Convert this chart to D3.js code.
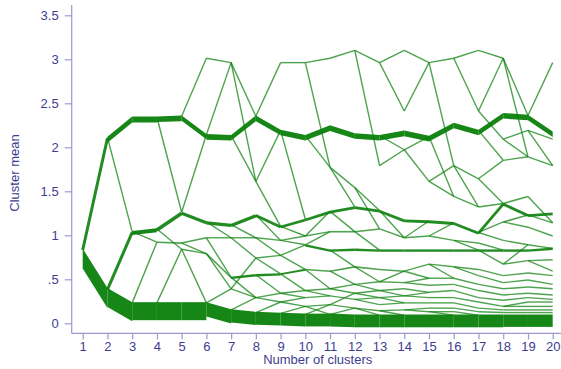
<!DOCTYPE html>
<html>
<head>
<meta charset="utf-8">
<script src="https://cdn.jsdelivr.net/npm/d3@7"></script>
<style>
  body { margin: 0; background: #fff; }
  svg { display: block; font-family: "Liberation Sans", Arial, sans-serif; }
</style>
</head>
<body>
<div id="chart"></div>
<script>
// number of clusters on the x axis
const clusterCounts = [1, 2, 3, 4, 5, 6, 7, 8, 9, 10, 11, 12, 13, 14, 15, 16, 17, 18, 19, 20];
const yTicks = [0, 0.5, 1, 1.5, 2, 2.5, 3, 3.5];
const yTickLabels = ['0', '.5', '1', '1.5', '2', '2.5', '3', '3.5'];

// cluster means for each solution (k clusters -> k means)
const clusterMeans = [
  [0.85],
  [2.12, 0.40],
  [2.35, 1.05, 0.24],
  [2.35, 1.08, 0.93, 0.24],
  [2.36, 1.27, 0.92, 0.85, 0.24],
  [3.02, 2.15, 1.16, 0.98, 0.80, 0.24],
  [2.97, 2.14, 1.13, 0.98, 0.53, 0.40, 0.16],
  [2.36, 1.62, 1.24, 0.98, 0.75, 0.56, 0.30, 0.13],
  [2.97, 2.20, 1.11, 0.95, 0.78, 0.57, 0.35, 0.25, 0.12],
  [2.97, 2.14, 1.19, 1.00, 0.90, 0.62, 0.38, 0.30, 0.20, 0.11],
  [3.02, 2.25, 1.78, 1.28, 1.05, 0.84, 0.60, 0.40, 0.32, 0.22, 0.11],
  [3.11, 2.16, 1.55, 1.33, 1.05, 0.85, 0.65, 0.45, 0.35, 0.28, 0.18, 0.10],
  [2.97, 2.14, 1.80, 1.29, 1.08, 0.84, 0.62, 0.48, 0.38, 0.30, 0.22, 0.15, 0.10],
  [3.11, 2.42, 2.19, 1.98, 1.18, 0.98, 0.84, 0.60, 0.47, 0.40, 0.32, 0.24, 0.16, 0.10],
  [2.97, 2.13, 1.62, 1.17, 1.00, 0.84, 0.68, 0.52, 0.44, 0.36, 0.30, 0.24, 0.18, 0.14, 0.10],
  [3.02, 2.28, 1.80, 1.45, 1.15, 0.95, 0.84, 0.65, 0.52, 0.45, 0.38, 0.30, 0.24, 0.18, 0.14, 0.10],
  [3.11, 2.42, 2.20, 1.65, 1.33, 1.04, 0.92, 0.84, 0.62, 0.55, 0.45, 0.38, 0.30, 0.25, 0.18, 0.14, 0.10],
  [3.02, 2.39, 2.10, 1.86, 1.37, 1.16, 0.95, 0.84, 0.68, 0.55, 0.47, 0.40, 0.33, 0.27, 0.20, 0.16, 0.13, 0.10],
  [2.37, 2.20, 1.90, 1.45, 1.24, 1.10, 0.90, 0.84, 0.72, 0.58, 0.50, 0.42, 0.35, 0.30, 0.25, 0.20, 0.16, 0.13, 0.10],
  [2.97, 2.18, 2.10, 1.80, 1.26, 1.15, 1.00, 0.86, 0.73, 0.60, 0.55, 0.45, 0.40, 0.33, 0.28, 0.25, 0.20, 0.16, 0.13, 0.10]
];

// moves between k and k+1 clusters: [cluster at k, cluster at k+1, observations]
const flows = [
  [[0, 0, 15], [0, 1, 100]],
  [[0, 0, 30], [0, 1, 7], [1, 1, 15], [1, 2, 95]],
  [[0, 0, 30], [1, 1, 20], [1, 2, 7], [2, 2, 7], [2, 3, 90]],
  [[0, 0, 28], [0, 1, 7], [1, 1, 18], [1, 3, 7], [2, 2, 8], [3, 3, 7], [3, 4, 90]],
  [[0, 0, 7], [0, 1, 26], [1, 1, 7], [1, 2, 16], [2, 3, 7], [2, 4, 7], [3, 4, 7], [3, 5, 7], [4, 5, 90]],
  [[0, 0, 7], [1, 1, 28], [1, 0, 7], [2, 2, 16], [2, 3, 7], [3, 3, 7], [3, 4, 7], [4, 4, 8], [4, 5, 7], [5, 5, 7], [5, 6, 72]],
  [[0, 0, 7], [0, 1, 7], [1, 0, 28], [1, 1, 7], [2, 2, 16], [2, 3, 7], [3, 3, 7], [3, 4, 7], [4, 5, 12], [4, 6, 7], [5, 4, 7], [5, 6, 7], [6, 6, 7], [6, 7, 66]],
  [[0, 0, 7], [0, 1, 28], [1, 1, 7], [1, 2, 7], [2, 2, 14], [2, 3, 7], [3, 3, 7], [3, 4, 7], [4, 4, 7], [4, 5, 7], [5, 5, 12], [5, 6, 7], [6, 6, 7], [6, 7, 7], [7, 7, 7], [7, 8, 64]],
  [[0, 0, 7], [1, 1, 28], [1, 2, 7], [2, 2, 14], [2, 3, 7], [3, 3, 7], [3, 4, 7], [4, 4, 7], [4, 5, 7], [5, 5, 10], [5, 6, 7], [6, 6, 7], [6, 7, 7], [7, 7, 7], [7, 8, 7], [8, 8, 7], [8, 9, 64]],
  [[0, 0, 7], [0, 2, 7], [1, 1, 28], [1, 2, 7], [2, 3, 14], [3, 4, 7], [3, 3, 7], [4, 5, 12], [4, 4, 7], [5, 6, 8], [5, 7, 7], [6, 7, 7], [6, 8, 7], [7, 8, 7], [8, 9, 7], [8, 10, 7], [9, 10, 64], [9, 9, 7]],
  [[0, 0, 7], [1, 1, 28], [2, 2, 7], [2, 3, 7], [3, 3, 14], [3, 4, 7], [4, 4, 8], [5, 5, 12], [5, 6, 7], [6, 6, 8], [6, 7, 7], [7, 7, 7], [7, 8, 7], [8, 9, 7], [9, 8, 7], [9, 10, 7], [10, 10, 7], [10, 11, 64]],
  [[0, 0, 7], [0, 2, 7], [1, 1, 28], [2, 3, 7], [2, 4, 7], [3, 3, 14], [4, 4, 8], [4, 5, 7], [5, 5, 12], [6, 6, 8], [6, 7, 7], [7, 7, 7], [7, 8, 7], [8, 8, 7], [8, 9, 7], [9, 9, 7], [9, 10, 7], [10, 11, 7], [10, 12, 7], [11, 12, 64]],
  [[0, 0, 7], [0, 1, 7], [1, 2, 28], [1, 3, 7], [2, 3, 7], [3, 4, 14], [3, 5, 7], [4, 5, 7], [5, 6, 12], [6, 7, 8], [7, 7, 7], [7, 8, 7], [8, 9, 7], [8, 10, 7], [9, 10, 7], [9, 11, 7], [10, 11, 7], [11, 12, 7], [11, 13, 7], [12, 13, 64]],
  [[0, 0, 7], [1, 0, 7], [2, 1, 28], [3, 1, 7], [3, 2, 7], [4, 3, 14], [5, 4, 7], [5, 3, 7], [6, 5, 12], [7, 6, 7], [7, 7, 8], [8, 7, 7], [8, 8, 7], [9, 9, 7], [10, 9, 7], [10, 10, 7], [11, 11, 7], [12, 12, 7], [12, 13, 7], [13, 14, 64]],
  [[0, 0, 7], [0, 2, 7], [1, 1, 28], [1, 3, 7], [2, 2, 7], [2, 3, 7], [3, 4, 14], [4, 5, 7], [4, 4, 7], [5, 6, 12], [6, 7, 7], [6, 8, 7], [7, 8, 7], [8, 9, 7], [9, 10, 7], [10, 11, 7], [11, 12, 7], [12, 13, 7], [13, 14, 7], [14, 15, 64], [13, 15, 7]],
  [[0, 0, 7], [0, 1, 7], [1, 2, 28], [2, 3, 7], [2, 4, 7], [3, 4, 7], [4, 5, 14], [5, 6, 7], [5, 7, 7], [6, 7, 12], [7, 8, 7], [7, 9, 7], [8, 10, 7], [9, 11, 7], [10, 12, 7], [11, 13, 7], [12, 14, 7], [13, 15, 7], [14, 16, 7], [15, 16, 64]],
  [[0, 0, 7], [1, 2, 7], [1, 0, 7], [2, 1, 28], [2, 3, 7], [3, 4, 7], [3, 3, 7], [4, 4, 8], [5, 4, 14], [5, 5, 7], [5, 6, 7], [6, 7, 7], [7, 7, 12], [7, 8, 7], [8, 9, 7], [9, 10, 7], [10, 11, 7], [11, 12, 7], [12, 13, 7], [13, 14, 7], [14, 15, 7], [15, 16, 7], [16, 17, 64]],
  [[0, 0, 7], [0, 2, 7], [1, 0, 28], [2, 1, 7], [2, 2, 7], [3, 2, 7], [4, 3, 8], [4, 4, 14], [5, 4, 8], [5, 5, 7], [6, 6, 7], [7, 7, 12], [8, 8, 7], [8, 6, 7], [9, 9, 7], [10, 10, 7], [11, 11, 7], [12, 12, 7], [13, 13, 7], [14, 14, 7], [14, 15, 7], [15, 16, 7], [16, 17, 7], [17, 18, 62]],
  [[0, 0, 7], [0, 1, 28], [1, 2, 7], [1, 3, 7], [2, 3, 7], [3, 5, 7], [4, 4, 14], [4, 5, 7], [5, 6, 7], [6, 7, 7], [7, 7, 12], [8, 8, 7], [8, 9, 7], [9, 10, 7], [10, 11, 7], [11, 12, 7], [12, 13, 7], [13, 14, 7], [14, 15, 7], [15, 16, 7], [16, 17, 7], [17, 18, 7], [18, 19, 62]]
];

const width = 561, height = 369;
const textColor = '#3d3d8f';
const axisColor = '#9a9ad0';
const lineColor = '#0a800a';

const svg = d3.select('#chart').append('svg')
  .attr('width', width)
  .attr('height', height);

const xScale = d3.scaleLinear()
  .domain([1, 20])
  .range([82.7, 552.7]);
const yScale = d3.scaleLinear()
  .domain([0, 3.5])
  .range([323.3, 15.3]);
// observations -> pixel thickness
const widthScale = d3.scaleLinear()
  .domain([0, 100])
  .range([0, 20]);

// flatten the flows into segments
const segments = [];
flows.forEach((step, s) => {
  step.forEach(f => {
    segments.push({
      k: clusterCounts[s],
      from: clusterMeans[s][f[0]],
      to: clusterMeans[s + 1][f[1]],
      n: f[2]
    });
  });
});
// draw thick ones last so they sit on top
segments.sort((a, b) => a.n - b.n);

const thin = segments.filter(d => d.n < 20);
const thick = segments.filter(d => d.n >= 20);

const plot = svg.append('g');
plot.selectAll('line.flow')
  .data(thin)
  .enter()
  .append('line')
  .attr('class', 'flow')
  .attr('x1', d => xScale(d.k))
  .attr('y1', d => yScale(d.from) + widthScale(d.n) / 2)
  .attr('x2', d => xScale(d.k + 1))
  .attr('y2', d => yScale(d.to) + widthScale(d.n) / 2)
  .attr('stroke', lineColor)
  .attr('stroke-opacity', d => d.n < 10 ? 0.72 : 0.9)
  .attr('stroke-width', d => widthScale(d.n));

// thick bands: stacked from the mean downwards, with vertical ends
plot.selectAll('path.band')
  .data(thick)
  .enter()
  .append('path')
  .attr('class', 'band')
  .attr('d', d => {
    const x1 = xScale(d.k), x2 = xScale(d.k + 1);
    const y1 = yScale(d.from), y2 = yScale(d.to);
    const h = widthScale(d.n);
    return `M${x1},${y1}L${x2},${y2}L${x2},${y2 + h}L${x1},${y1 + h}Z`;
  })
  .attr('fill', lineColor)
  .attr('fill-opacity', 0.95);

// y axis
const yAxis = d3.axisLeft(yScale)
  .tickValues(yTicks)
  .tickSize(7)
  .tickPadding(6)
  .tickFormat((d, i) => yTickLabels[i]);
const yG = svg.append('g')
  .attr('transform', 'translate(71.7,0)')
  .call(yAxis);
yG.select('.domain').attr('d', 'M0,5V333.5');

// x axis
const xAxis = d3.axisBottom(xScale)
  .tickValues(clusterCounts)
  .tickSize(6)
  .tickPadding(2)
  .tickFormat(d3.format('d'));
const xG = svg.append('g')
  .attr('transform', 'translate(0,333.3)')
  .call(xAxis);
xG.select('.domain').attr('d', 'M71.7,0H561');

svg.selectAll('.domain').attr('stroke', axisColor).attr('stroke-width', 1.2);
svg.selectAll('.tick line').attr('stroke', axisColor).attr('stroke-width', 1.2);
svg.selectAll('.tick text')
  .attr('fill', textColor)
  .style('font-size', '13px')
  .style('font-family', '"Liberation Sans", Arial, sans-serif');

svg.append('text')
  .attr('x', xScale(10.5))
  .attr('y', 364)
  .attr('text-anchor', 'middle')
  .attr('fill', textColor)
  .style('font-size', '13px')
  .text('Number of clusters');

svg.append('text')
  .attr('transform', 'translate(19,173) rotate(-90)')
  .attr('text-anchor', 'middle')
  .attr('fill', textColor)
  .style('font-size', '13px')
  .text('Cluster mean');
</script>
</body>
</html>
